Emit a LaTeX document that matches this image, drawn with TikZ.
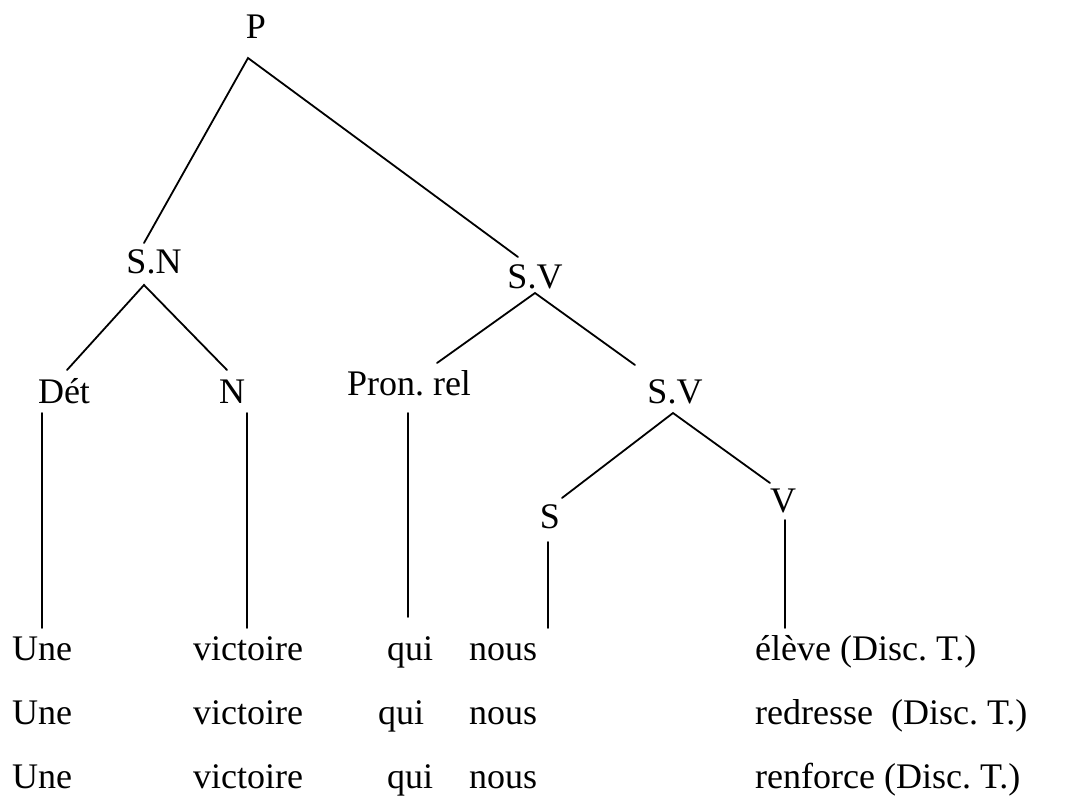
\documentclass[tikz,border=0pt]{standalone}
\usepackage{fontspec}
\setmainfont{Liberation Serif}
\frenchspacing
\begin{document}
\begin{tikzpicture}[x=1pt,y=-1pt,
  lbl/.style={inner sep=0pt,anchor=base,font=\fontsize{36}{43}\selectfont},
  wrd/.style={inner sep=0pt,anchor=base west,font=\fontsize{36}{43}\selectfont},
  edge/.style={line width=1.8pt,line cap=round}]
\useasboundingbox (0,0) rectangle (1071,796);
% category labels
\node[lbl] (P) at (256,38) {P};
\node[lbl] (SN) at (154,273) {S.N};
\node[lbl] (SV) at (535,288) {S.V};
\node[lbl] (Det) at (64,403) {Dét};
\node[lbl] (N) at (232,403) {N};
\node[lbl] (Pron) at (409,395) {Pron. rel};
\node[lbl] (SVb) at (675,403) {S.V};
\node[lbl] (S) at (550,528) {S};
\node[lbl] (V) at (783,512) {V};
% connector end points
\coordinate (Pb) at (248,58);
\coordinate (SNt) at (144,243);
\coordinate (SVt) at (518,257);
\coordinate (SNb) at (144,285);
\coordinate (Dett) at (67,370);
\coordinate (Nt) at (227,370);
\coordinate (SVbot) at (535,293);
\coordinate (Pront) at (437,363);
\coordinate (SVbt) at (635,365);
\coordinate (SVbb) at (673,413);
\coordinate (St) at (562,498);
\coordinate (Vt) at (770,483);
\coordinate (Detb) at (42,413);
\coordinate (Detw) at (42,628);
\coordinate (Nb) at (247,413);
\coordinate (Nw) at (247,628);
\coordinate (Pronb) at (408,413);
\coordinate (Pronw) at (408,617);
\coordinate (Sb) at (548,542);
\coordinate (Sw) at (548,628);
\coordinate (Vb) at (785,520);
\coordinate (Vw) at (785,628);
% tree edges
\draw[edge] (SNt) -- (Pb) -- (SVt);
\draw[edge] (Dett) -- (SNb) -- (Nt);
\draw[edge] (Pront) -- (SVbot) -- (SVbt);
\draw[edge] (St) -- (SVbb) -- (Vt);
\draw[edge] (Detb) -- (Detw);
\draw[edge] (Nb) -- (Nw);
\draw[edge] (Pronb) -- (Pronw);
\draw[edge] (Sb) -- (Sw);
\draw[edge] (Vb) -- (Vw);
% word rows
\node[wrd] (u1) at (12,660) {Une};
\node[wrd] (v1) at (193,660) {victoire};
\node[wrd] (q1) at (387,660) {qui};
\node[wrd] (n1) at (469,660) {nous};
\node[wrd] (e1) at (755,660) {élève (Disc. T.)};
\node[wrd] (u2) at (12,724) {Une};
\node[wrd] (v2) at (193,724) {victoire};
\node[wrd] (q2) at (378,724) {qui};
\node[wrd] (n2) at (469,724) {nous};
\node[wrd] (e2) at (755,724) {redresse\ \ (Disc. T.)};
\node[wrd] (u3) at (12,788) {Une};
\node[wrd] (v3) at (193,788) {victoire};
\node[wrd] (q3) at (387,788) {qui};
\node[wrd] (n3) at (469,788) {nous};
\node[wrd] (e3) at (755,788) {renforce (Disc. T.)};
\end{tikzpicture}
\end{document}
